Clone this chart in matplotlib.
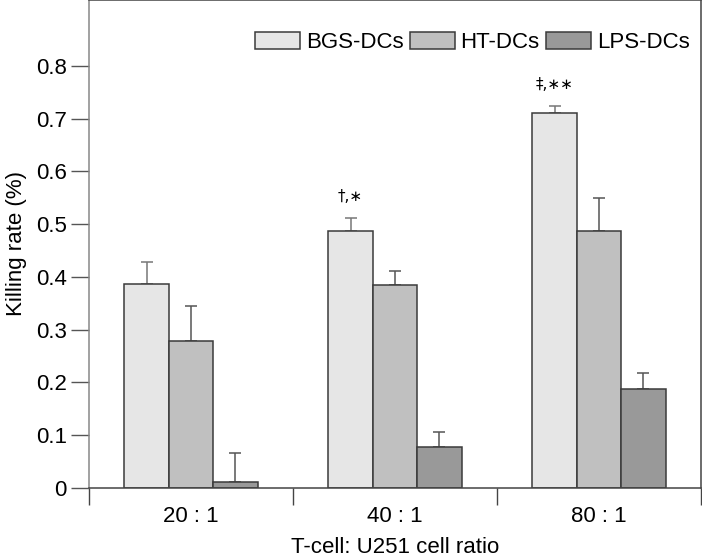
import matplotlib
matplotlib.use("Agg")
import matplotlib.pyplot as plt
import numpy as np

plt.rcParams['font.family'] = ['Liberation Sans', 'DejaVu Sans']

ratios = ["20 : 1", "40 : 1", "80 : 1"]
groups = ["BGS-DCs", "HT-DCs", "LPS-DCs"]
bgs = [0.387, 0.487, 0.710]
ht = [0.279, 0.385, 0.488]
lps = [0.011, 0.077, 0.188]
bgs_err = [0.042, 0.025, 0.014]
ht_err = [0.066, 0.027, 0.062]
lps_err = [0.056, 0.030, 0.030]
marks = ["", "\u2020,\u2217", "\u2021,\u2217\u2217"]

colors = ["#e6e6e6", "#c0c0c0", "#999999"]
ecolors = ["#777777", "#555555", "#555555"]

fig = plt.figure(figsize=(7.02, 5.6), dpi=100)
ax = fig.add_axes([89/702, 1-488/560, 612/702, 488/560])

x = np.arange(len(ratios))
w = 0.218
for i, (vals, errs) in enumerate(zip([bgs, ht, lps], [bgs_err, ht_err, lps_err])):
    pos = x + (i-1)*w
    ax.bar(pos, vals, w, color=colors[i], edgecolor="#3a3a3a", linewidth=1.1,
           label=groups[i], zorder=2)
    ax.errorbar(pos, vals, yerr=[np.zeros(len(vals)), errs], fmt="none",
                ecolor=ecolors[i], elinewidth=1.1, capsize=4.5, capthick=1.1, zorder=1)

# significance marks above the BGS bars
for xi, v, e, m in zip(x, bgs, bgs_err, marks):
    if m:
        ax.text(xi - w, v + e + 0.026, m, ha="center", va="bottom", fontsize=11,
                family=['DejaVu Sans'])

ax.set_xlim(-0.5, 2.5)
ax.set_ylim(0, 0.925)
ax.set_yticks(np.arange(0, 0.81, 0.1))
ax.set_yticklabels(["0"] + ["%.1f" % v for v in np.arange(0.1, 0.81, 0.1)])
ax.set_xticks([-0.5, 0.5, 1.5, 2.5])
ax.set_xticklabels([])
ax.set_xticks(x, minor=True)
ax.set_xticklabels(ratios, minor=True)
ax.tick_params(axis="x", which="major", length=12, width=1, color="#444444")
ax.tick_params(axis="x", which="minor", length=0, labelsize=16, pad=13)
ax.tick_params(axis="y", length=13, width=1, color="#555555", labelsize=16, pad=3)
for s in ax.spines.values():
    s.set_color("#444444")
    s.set_linewidth(1.1)
ax.spines["left"].set_color("#888888")

ax.set_ylabel("Killing rate (%)", fontsize=16, labelpad=6)
ax.set_xlabel("T-cell: U251 cell ratio", fontsize=16, labelpad=7)

ax.legend(loc="upper right", bbox_to_anchor=(1.003, 0.962), ncol=3, frameon=False,
          fontsize=16, handlelength=2.0, handleheight=0.8, handletextpad=0.27,
          columnspacing=0.3, borderaxespad=0.2)

fig.savefig("out.png", dpi=100)
